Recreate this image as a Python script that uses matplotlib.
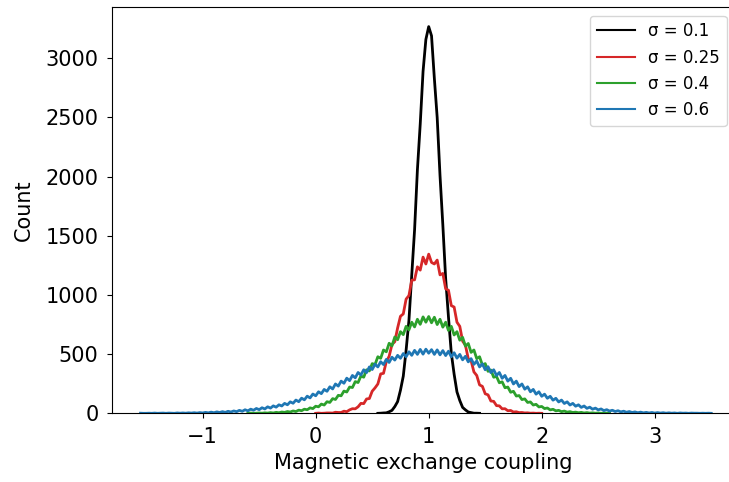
import matplotlib
matplotlib.use("Agg")
import matplotlib.pyplot as plt
import numpy as np

# bin width of the histograms
binWidth = 0.025

labels = ["σ = 0.1", "σ = 0.25", "σ = 0.4", "σ = 0.6"]
colors = ["black", "tab:red", "tab:green", "tab:blue"]

# centre of the first bin of each series
starts = [0.55, 0.0, -0.6, -1.55]

countsSigma01 = [
    0, 1, 3, 4, 13, 25, 57, 99, 195, 314,
    533, 785, 1170, 1551, 2058, 2445, 2890, 3160,
    3268,
    3190, 2830, 2500, 2010, 1592, 1138, 812, 508, 330, 181,
    108, 50, 29, 11, 6, 1, 1, 0,
]

countsSigma025 = [
    0, 2, 0, 1, 3, 3, 2, 9, 7, 7,
    18, 14, 29, 39, 38, 55, 84, 82, 121, 125,
    187, 215, 248, 333, 338, 437, 482, 582, 605, 722,
    820, 840, 965, 995, 1125, 1128, 1238, 1210, 1320, 1262,
    1345,
    1275, 1262, 1295, 1170, 1182, 1052, 1040, 910, 898, 770,
    735, 610, 575, 462, 445, 350, 320, 240, 228, 165,
    156, 104, 101, 65, 63, 38, 39, 22, 24, 11,
    13, 6, 7, 3, 4, 1, 2, 0, 1, 0,
]

countsSigma04 = [
    0, 2, 0, 1, 3, 1, 4, 2, 6, 3,
    8, 5, 11, 8, 15, 11, 20, 15, 27, 22,
    35, 30, 46, 40, 60, 55, 78, 70, 98, 92,
    124, 117, 152, 148, 188, 180, 222, 218, 268, 260,
    315, 305, 368, 358, 420, 412, 478, 465, 535, 520,
    592, 570, 645, 622, 690, 665, 735, 705, 770, 730,
    795, 752, 815, 770,
    818,
    765, 812, 750, 795, 728, 770, 700, 735, 662, 690,
    618, 642, 568, 590, 515, 535, 462, 478, 408, 420,
    355, 366, 305, 312, 258, 266, 216, 222, 178, 186,
    146, 150, 116, 122, 92, 96, 70, 76, 54, 58,
    40, 45, 29, 34, 21, 25, 14, 19, 10, 14,
    7, 10, 5, 8, 3, 6, 2, 4, 1, 3,
    0, 2, 1, 0,
]

countsSigma06 = [
    1, 0, 0, 1, 0, 2, 0, 1, 2, 0,
    2, 1, 0, 3, 1, 3, 1, 4, 2, 5,
    2, 6, 3, 8, 4, 10, 5, 12, 7, 14,
    8, 17, 11, 20, 14, 25, 17, 30, 21, 35,
    26, 41, 31, 47, 37, 55, 44, 63, 52, 72,
    62, 84, 72, 97, 85, 112, 98, 128, 114, 145,
    130, 163, 148, 182, 166, 202, 186, 224, 206, 248,
    230, 272, 254, 297, 276, 320, 300, 345, 324, 368,
    344, 392, 370, 415, 392, 436, 412, 456, 430, 474,
    450, 490, 465, 505, 478, 520, 490, 532, 498, 540,
    500, 542,
    508,
    538, 498, 536, 494, 530, 488, 525, 478, 512, 466,
    498, 452, 482, 435, 462, 414, 442, 392, 418, 368,
    394, 344, 368, 320, 345, 296, 320, 272, 296, 248,
    272, 226, 248, 204, 224, 182, 202, 162, 182, 144,
    162, 127, 144, 111, 127, 96, 112, 83, 97, 70,
    84, 60, 72, 50, 62, 42, 52, 35, 44, 29,
    37, 23, 31, 19, 26, 15, 22, 12, 18, 9,
    15, 7, 12, 5, 10, 4, 8, 3, 7, 2,
    6, 2, 5, 1, 4, 1, 3, 0, 3, 1,
    2, 0, 2, 1, 1, 0, 1, 0, 1, 0,
]

allCounts = [countsSigma01, countsSigma025, countsSigma04, countsSigma06]

fig = plt.figure(figsize=(7.29, 4.82), dpi=100)
ax = fig.add_axes([0.154, 0.1425, 0.8542, 0.8423])

for counts, start, color, label in zip(allCounts, starts, colors, labels):
    counts = np.array(counts, dtype=float)
    centres = start + binWidth * np.arange(len(counts))
    ax.plot(centres, counts, color=color, linewidth=2.0, label=label)

ax.set_xlim(-1.80, 3.71)
ax.set_ylim(0, 3431)
ax.set_xticks([-1, 0, 1, 2, 3])
ax.set_yticks([0, 500, 1000, 1500, 2000, 2500, 3000])
ax.tick_params(labelsize=15, pad=6.5)
ax.set_xlabel("Magnetic exchange coupling", fontsize=15)
ax.set_ylabel("Count", fontsize=15, labelpad=8)
leg = ax.legend(loc="upper right", fontsize=12, handlelength=2.3)
for line in leg.get_lines():
    line.set_linewidth(1.5)

fig.savefig("out.png", dpi=100)
